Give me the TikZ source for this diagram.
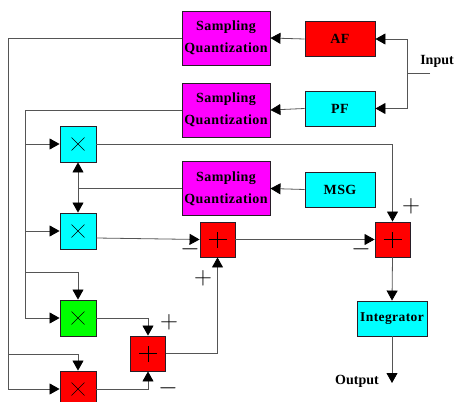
\documentclass[tikz,border=0pt]{standalone}
\usepackage{fontspec}
\setmainfont{Liberation Serif}
\newfontfamily\boxfont[LetterSpace=3]{Liberation Serif}
\usepackage{xcolor}
\usepackage{tikz}
\usetikzlibrary{arrows.meta, positioning, calc}
\definecolor{SQMagenta}{RGB}{255, 0, 255}
\definecolor{BlkCyan}{RGB}{0, 255, 255}
\definecolor{BlkRed}{RGB}{255, 0, 0}
\definecolor{BlkGreen}{RGB}{0, 255, 0}
\definecolor{WireGray}{RGB}{85, 85, 85}
\definecolor{EdgeDark}{RGB}{40, 30, 40}

\tikzset{
  blockbox/.style={draw=EdgeDark, line width=0.9pt, inner sep=0pt, align=center,
    font=\boxfont\bfseries\fontsize{14}{22}\selectfont},
  sqbox/.style={blockbox, fill=SQMagenta, minimum width=88pt, minimum height=54pt},
  filterbox/.style={blockbox, minimum width=70pt, minimum height=35pt},
  mulbox/.style={blockbox, minimum width=36pt, minimum height=36pt,
    path picture={\draw[black, line width=0.6pt, shift={(path picture bounding box.center)}]
      (-6.5pt,-6.5pt) -- (6.5pt,6.5pt) (-6.5pt,6.5pt) -- (6.5pt,-6.5pt);}},
  addbox/.style={blockbox, fill=BlkRed, minimum width=35pt, minimum height=35pt,
    path picture={\draw[black, line width=0.6pt, shift={(path picture bounding box.center)}]
      (-9pt,0pt) -- (9pt,0pt) (0pt,-8pt) -- (0pt,8pt);}},
  wire/.style={draw=WireGray, line width=0.8pt},
  tip/.style={Triangle[length=10pt,width=11pt,black]},
  arr/.style={wire, -{Triangle[length=10pt,width=11pt,black]}},
  sign/.style={inner sep=0pt, font=\fontsize{24}{24}\selectfont},
  iolabel/.style={inner sep=0pt, font=\bfseries\fontsize{14}{14}\selectfont}
}

\begin{document}
\begin{tikzpicture}[x=1pt, y=-1pt]
  \clip (0,0) rectangle (454,401);
  \useasboundingbox (0,0) rectangle (454,401);

  % sampling / quantization stages
  \node[sqbox] (sqA) at (226,38) {Sampling\\Quantization};
  \node[sqbox] (sqB) at (226,110) {Sampling\\Quantization};
  \node[sqbox] (sqC) at (226,188.5) {Sampling\\Quantization};

  % filters and generator
  \node[filterbox, fill=BlkRed] (af) at (340,39) {AF};
  \node[filterbox, fill=BlkCyan] (pf) at (340,108.5) {PF};
  \node[filterbox, fill=BlkCyan] (msg) at (340,189.5) {MSG};

  % multipliers
  \node[mulbox, fill=BlkCyan] (mA) at (78,144) {};
  \node[mulbox, fill=BlkCyan] (mB) at (78,231) {};
  \node[mulbox, fill=BlkGreen] (mC) at (78,318) {};
  \node[mulbox, fill=BlkRed] (mD) at (78,389) {};

  % adders
  \node[addbox] (sA) at (217.5,239.5) {};
  \node[addbox] (sB) at (392.5,239.5) {};
  \node[addbox] (sC) at (148,353.5) {};

  \node[filterbox, fill=BlkCyan, font=\boxfont\bfseries\fontsize{13.5}{13.5}\selectfont] (integ) at (392,318.5) {Integrator};

  % input and output
  \coordinate (inTip) at (430,73);
  \coordinate (inJoin) at (407,73);
  \node[iolabel] (inLbl) at (437,61) {Input};
  \coordinate (outTip) at (392,383);
  \node[iolabel] (outLbl) at (357,381) {Output};

  % bend points of the buses
  \coordinate (busOuter) at (8,389);
  \coordinate (busOuterTap) at (8,354);
  \coordinate (busInner) at (25,318);
  \coordinate (busInnerTap) at (25,272);

  \draw[wire] (inTip) -- (inJoin);
  \draw[arr] (inJoin) |- (af.east);
  \draw[arr] (inJoin) |- (pf.east);
  \draw[arr] (af.west) -- (sqA.east);
  \draw[arr] (pf.west) -- (sqB.east);
  \draw[arr] (msg.west) -- (sqC.east);

  % outer bus from the first stage
  \draw[arr] (sqA.west) -| (busOuter) -- (mD.west);
  \draw[arr] (busOuterTap) -| (mD.north);

  % inner bus from the second stage
  \draw[arr] (sqB.west) -| (busInner) -- (mC.west);
  \draw[arr] (busInner |- mA.west) -- (mA.west);
  \draw[arr] (busInner |- mB.west) -- (mB.west);
  \draw[arr] (busInnerTap) -| (mC.north);

  % third stage feeds the two cyan multipliers
  \draw[wire] (sqC.west) -- (sqC.west -| mA.south);
  \draw[wire, {Triangle[length=10pt,width=11pt,black]}-{Triangle[length=10pt,width=11pt,black]}] (mA.south) -- (mB.north);

  % products to the adders
  \draw[arr] (mA.east) -| (sB.north);
  \draw[arr] ($(mB.east)+(0,7)$) -- (sA.west);
  \draw[arr] (mC.east) -| (sC.north);
  \draw[arr] (mD.east) -| (sC.south);
  \draw[arr] (sC.east) -| (sA.south);
  \draw[arr] (sA.east) -- (sB.west);
  \draw[arr] (sB.south) -- (integ.north);
  \draw[arr] (integ.south) -- (outTip);

  % signs
  \node[sign] (sgAm) at (190,249) {$-$};
  \node[sign] (sgAp) at (203,278) {$+$};
  \node[sign] (sgBp) at (411,206) {$+$};
  \node[sign] (sgBm) at (361,249) {$-$};
  \node[sign] (sgCp) at (169,322) {$+$};
  \node[sign] (sgCm) at (168,388) {$-$};
\end{tikzpicture}
\end{document}
